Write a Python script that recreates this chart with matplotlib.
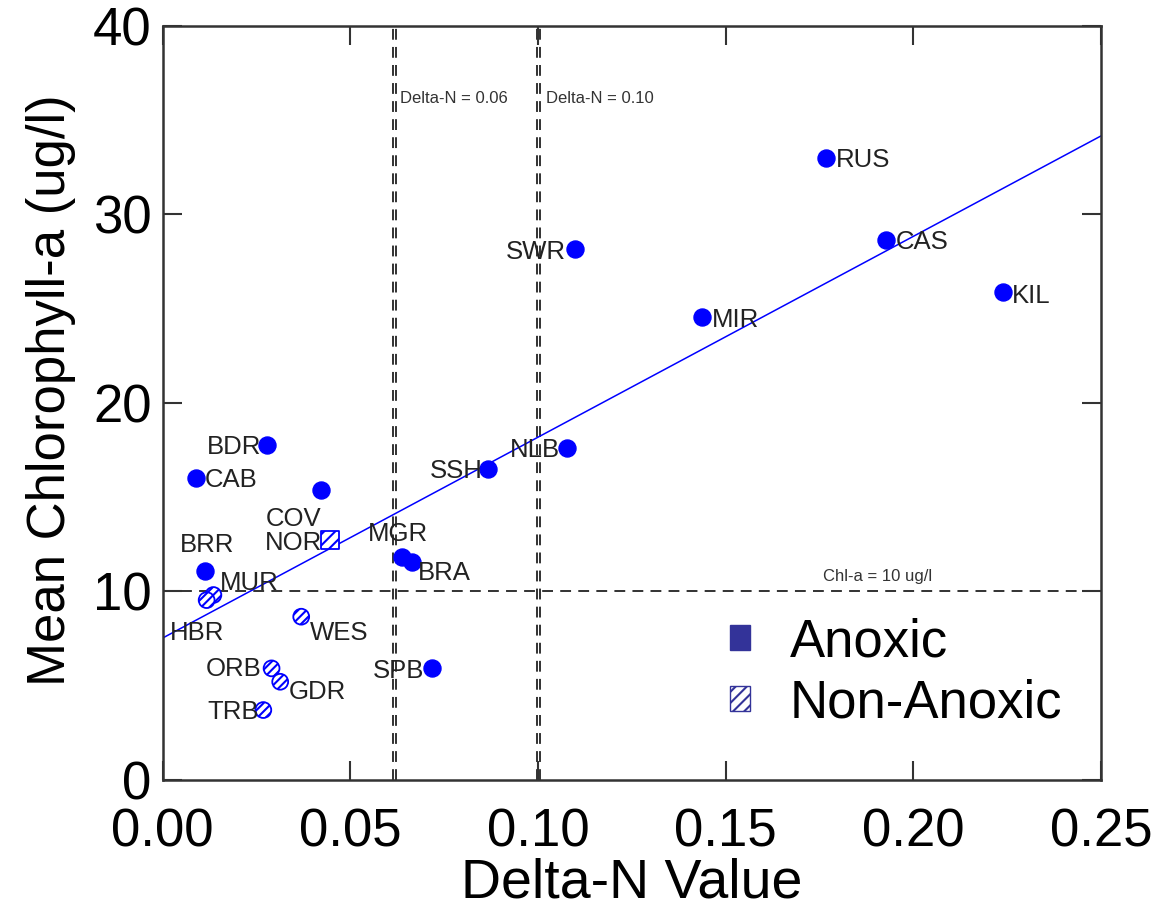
import matplotlib.pyplot as plt
from matplotlib.patches import Patch
import numpy as np

plt.rcParams['font.family'] = ['Liberation Sans', 'DejaVu Sans']
plt.rcParams['hatch.linewidth'] = 1.5

# Anoxic sites (filled)
anoxic_sites = ['RUS', 'CAS', 'KIL', 'SWR', 'MIR', 'NLB', 'SSH', 'BDR', 'CAB',
                'COV', 'MGR', 'BRA', 'SPB', 'BRR']
anoxic_dn = [0.1767, 0.1927, 0.2239, 0.1099, 0.1437, 0.1077, 0.0867, 0.0278, 0.0089,
             0.0422, 0.0637, 0.0663, 0.0717, 0.0113]
anoxic_chl = [32.98, 28.63, 25.87, 28.15, 24.55, 17.60, 16.49, 17.76, 16.01,
              15.38, 11.84, 11.57, 5.92, 11.10]

# Non-anoxic sites (hatched)
non_sites = ['NOR', 'MUR', 'HBR', 'WES', 'ORB', 'GDR', 'TRB']
non_dn = [0.0446, 0.0135, 0.0117, 0.0369, 0.0290, 0.0313, 0.0268]
non_chl = [12.73, 9.81, 9.54, 8.66, 5.92, 5.21, 3.71]

# regression line parameters
fit_intercept = 7.53
fit_slope = 106.5

# reference lines
dn_lines = [0.0614, 0.0622, 0.0997, 0.1005]
chl_line = 10

xticks = [0.00, 0.05, 0.10, 0.15, 0.20, 0.25]
yticks = [0, 10, 20, 30, 40]

# label offsets in points and alignment (layout only)
label_pos = {
    'RUS': (7, -1.5, 'left'), 'CAS': (7, -1.5, 'left'), 'KIL': (6.5, -3, 'left'),
    'SWR': (-6.5, -2, 'right'), 'MIR': (7, -2, 'left'), 'NLB': (-5, -1.5, 'right'),
    'SSH': (-4, -1.5, 'right'), 'BDR': (-4, -1.5, 'right'), 'CAB': (6.5, -1.5, 'left'),
    'COV': (-20, -21, 'center'), 'MGR': (-3, 16.5, 'center'), 'BRA': (4.5, -8, 'left'),
    'SPB': (-5.5, -2, 'right'), 'BRR': (1.5, 18.5, 'center'),
    'NOR': (-6, -2, 'right'), 'MUR': (5, 8.6, 'left'), 'HBR': (-7, -23.8, 'center'),
    'WES': (6, -11.7, 'left'), 'ORB': (-7, -0.5, 'right'), 'GDR': (6.5, -7.4, 'left'),
    'TRB': (-3, -1.5, 'right'),
}

fig = plt.figure(figsize=(11.64, 9.14), dpi=100)
ax = fig.add_axes([0.1398, 0.1466, 0.9459 - 0.1398, 0.9719 - 0.1466])

for x in dn_lines:
    ax.axvline(x, color='#222222', lw=1.3, ls=(0, (6, 4)), zorder=1)
ax.axhline(chl_line, color='#222222', lw=1.3, ls=(0, (6, 4)), zorder=1)

xx = np.array([0, 0.25])
ax.plot(xx, fit_intercept + fit_slope * xx, color='#0000ff', lw=1.1, zorder=2)

ax.scatter(anoxic_dn, anoxic_chl, s=150, color='#0000ff', edgecolors='#0000ff', zorder=3)
ax.scatter(non_dn, non_chl, s=130, facecolors='white', edgecolors='#0000ff',
           hatch='////', linewidths=1.3, zorder=3)
# NOR is drawn as a square
ax.scatter([non_dn[0]], [non_chl[0]], s=160, marker='s', facecolors='white',
           edgecolors='#0000ff', hatch='///', linewidths=1.3, zorder=4)

for name, x, y in zip(anoxic_sites + non_sites, anoxic_dn + non_dn, anoxic_chl + non_chl):
    dx, dy, ha = label_pos[name]
    ax.annotate(name, (x, y), xytext=(dx, dy), textcoords='offset points',
                ha=ha, va='center', fontsize=18.5, color='#222222', zorder=5)

ax.text(0.0632, 36.15, 'Delta-N = 0.06', fontsize=12, color='#333333', va='center')
ax.text(0.1020, 36.15, 'Delta-N = 0.10', fontsize=12, color='#333333', va='center')
ax.text(0.176, 10.8, 'Chl-a = 10 ug/l', fontsize=12, color='#333333', va='center')

ax.set_xlim(0, 0.25)
ax.set_ylim(0, 40)
ax.set_xticks(xticks)
ax.set_yticks(yticks)
ax.set_xticklabels(['%.2f' % t for t in xticks])
ax.tick_params(direction='in', length=14, width=1.5, colors='#333333',
               labelcolor='black', labelsize=38, top=True, right=True)
ax.tick_params(axis='x', pad=20)
ax.tick_params(axis='y', pad=8)
for sp in ax.spines.values():
    sp.set_linewidth(1.8)
    sp.set_color('#333333')

ax.set_xlabel('Delta-N Value', fontsize=40, labelpad=0)
ax.set_ylabel('Mean Chlorophyll-a (ug/l)', fontsize=38)
ax.yaxis.set_label_coords(-0.092, 0.517)

handles = [Patch(facecolor='#333399', edgecolor='#333399'),
           Patch(facecolor='white', edgecolor='#333399', hatch='///')]
ax.legend(handles, ['Anoxic', 'Non-Anoxic'], loc='upper left',
          bbox_to_anchor=(0.605, 0.215), frameon=False, fontsize=38,
          handlelength=0.37, handleheight=0.35, handletextpad=0.75,
          labelspacing=0.2, borderpad=0, borderaxespad=0)

fig.savefig('out.png', dpi=100)
